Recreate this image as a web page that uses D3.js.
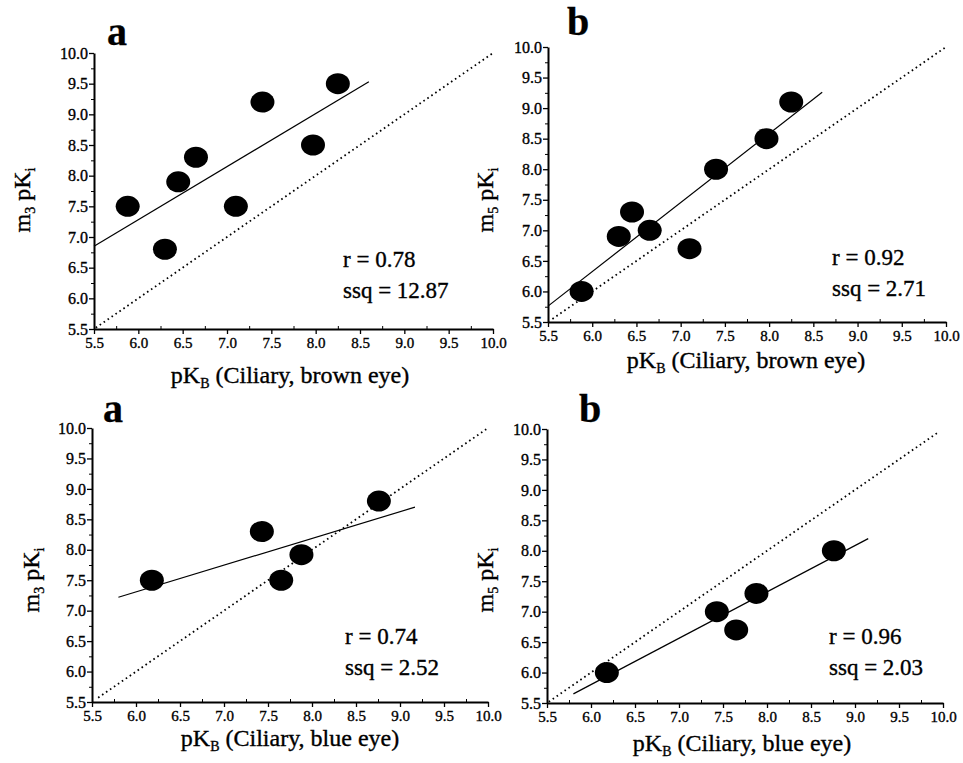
<!DOCTYPE html>
<html>
<head>
<meta charset="utf-8">
<script src="https://cdn.jsdelivr.net/npm/d3@7"></script>
<style>
  body { margin: 0; background: #fff; }
  svg { display: block; }
  text { font-family: "Liberation Serif", "Times New Roman", serif; fill: #000; stroke: #000; stroke-width: 0.35px; }
</style>
</head>
<body>
<svg width="963" height="763"></svg>
<script>
// tick values shared by every panel
var tickValues = [5.5, 6.0, 6.5, 7.0, 7.5, 8.0, 8.5, 9.0, 9.5, 10.0];
var minorValues = [5.75, 6.25, 6.75, 7.25, 7.75, 8.25, 8.75, 9.25, 9.75];

// brown eye (top row)
var brownX  = [5.88, 6.30, 6.45, 6.65, 7.10, 7.40, 7.97, 8.25];
var brownM3 = [7.50, 6.80, 7.90, 8.30, 7.50, 9.20, 8.50, 9.50];
var brownM5 = [6.00, 6.90, 7.30, 7.00, 6.70, 8.00, 8.50, 9.10];

// blue eye (bottom row)
var blueX  = [6.18, 7.43, 7.65, 7.88, 8.76];
var blueM3 = [7.50, 8.30, 7.50, 7.92, 8.80];
var blueM5 = [6.00, 7.00, 6.70, 7.30, 8.00];

// fitted lines [x0, y0, x1, y1]
var fitBrownM3 = [5.50, 6.85, 8.60, 9.53];
var fitBrownM5 = [5.50, 5.76, 8.60, 9.26];
var fitBlueM3  = [5.80, 7.22, 9.17, 8.70];
var fitBlueM5  = [5.80, 5.65, 9.15, 8.20];

// identity lines [start, end]
var idBrownM3 = [5.52, 10.0];
var idBrownM5 = [5.55, 10.0];
var idBlueM3  = [5.57, 10.0];
var idBlueM5  = [5.52, 9.95];

var stats = [["r = 0.78", "ssq = 12.87"], ["r = 0.92", "ssq = 2.71"],
             ["r = 0.74", "ssq = 2.52"], ["r = 0.96", "ssq = 2.03"]];
var letters = ["a", "b", "a", "b"];
var eyes = ["brown", "brown", "blue", "blue"];
var subs = ["3", "5", "3", "5"];

var panels = [
  {xs: brownX, ys: brownM3, fit: fitBrownM3, id: idBrownM3,
   xr: [94, 493], yr: [329, 53], letter: [107, 45], ylab: [30, 200], xlab: [290, 383], stat: [343, 267]},
  {xs: brownX, ys: brownM5, fit: fitBrownM5, id: idBrownM5,
   xr: [548, 946], yr: [322, 47], letter: [567, 35], ylab: [493, 200], xlab: [746, 368], stat: [832, 265]},
  {xs: blueX, ys: blueM3, fit: fitBlueM3, id: idBlueM3,
   xr: [92, 488], yr: [702, 428], letter: [103, 422], ylab: [39, 580], xlab: [290, 746], stat: [345, 644]},
  {xs: blueX, ys: blueM5, fit: fitBlueM5, id: idBlueM5,
   xr: [547, 943], yr: [703, 429], letter: [579, 422], ylab: [493, 580], xlab: [742, 751], stat: [829, 644]}
];

var svg = d3.select("svg");
var fmt = d3.format(".1f");

panels.forEach(function(p, i) {
  var x = d3.scaleLinear().domain([5.5, 10]).range(p.xr);
  var y = d3.scaleLinear().domain([5.5, 10]).range(p.yr);
  var g = svg.append("g");

  // minor ticks
  g.append("g")
      .attr("transform", "translate(0," + p.yr[0] + ")")
      .call(d3.axisBottom(x).tickValues(minorValues).tickSize(-3).tickFormat(""))
      .call(function(a) { a.select(".domain").remove(); });
  g.append("g")
      .attr("transform", "translate(" + p.xr[0] + ",0)")
      .call(d3.axisLeft(y).tickValues(minorValues).tickSize(3).tickFormat(""))
      .call(function(a) { a.select(".domain").remove(); });

  var xAxis = g.append("g")
      .attr("transform", "translate(0," + p.yr[0] + ")")
      .call(d3.axisBottom(x).tickValues(tickValues).tickSize(5).tickSizeOuter(0).tickFormat(fmt));
  var yAxis = g.append("g")
      .attr("transform", "translate(" + p.xr[0] + ",0)")
      .call(d3.axisLeft(y).tickValues(tickValues).tickSize(5).tickSizeOuter(0).tickFormat(fmt));

  [xAxis, yAxis].forEach(function(a) {
    a.select(".domain").attr("stroke-width", 2);
    a.selectAll(".tick line").attr("stroke-width", 1.3);
    a.selectAll("text").style("font-family", "'Liberation Serif', serif");
  });
  xAxis.selectAll("text").style("font-size", "15px").attr("dy", "0.9em").attr("y", 5);
  yAxis.selectAll("text").style("font-size", "16px").attr("x", -6);
  g.selectAll(".tick line").attr("stroke", "#000");
  g.selectAll(".domain").attr("stroke", "#000");

  // identity line
  g.append("line")
      .attr("x1", x(p.id[0])).attr("y1", y(p.id[0]))
      .attr("x2", x(p.id[1])).attr("y2", y(p.id[1]))
      .attr("stroke", "#000")
      .attr("stroke-width", 1.8)
      .attr("stroke-dasharray", "1.6,3.2");

  // fitted line
  g.append("line")
      .attr("x1", x(p.fit[0])).attr("y1", y(p.fit[1]))
      .attr("x2", x(p.fit[2])).attr("y2", y(p.fit[3]))
      .attr("stroke", "#000")
      .attr("stroke-width", 1.2);

  g.selectAll("ellipse")
      .data(d3.zip(p.xs, p.ys))
    .enter().append("ellipse")
      .attr("cx", function(d) { return x(d[0]); })
      .attr("cy", function(d) { return y(d[1]); })
      .attr("rx", 12)
      .attr("ry", 10.5)
      .attr("fill", "#000");

  g.append("text")
      .attr("x", p.letter[0]).attr("y", p.letter[1])
      .style("font-size", "40px").style("font-weight", "bold")
      .text(letters[i]);

  var s = g.append("text")
      .attr("x", p.stat[0]).attr("y", p.stat[1])
      .style("font-size", "23px");
  s.append("tspan").text(stats[i][0]);
  s.append("tspan").attr("x", p.stat[0]).attr("dy", 31).text(stats[i][1]);

  var yl = g.append("text")
      .attr("transform", "translate(" + p.ylab[0] + "," + p.ylab[1] + ") rotate(-90)")
      .attr("text-anchor", "middle")
      .style("font-size", "24px");
  yl.append("tspan").text("m");
  yl.append("tspan").attr("dy", 5).style("font-size", "14px").text(subs[i]);
  yl.append("tspan").attr("dy", -5).text(" pK");
  yl.append("tspan").attr("dy", 5).style("font-size", "14px").text("i");

  var xl = g.append("text")
      .attr("x", p.xlab[0]).attr("y", p.xlab[1])
      .attr("text-anchor", "middle")
      .style("font-size", "24px");
  xl.append("tspan").text("pK");
  xl.append("tspan").attr("dy", 5).style("font-size", "14px").text("B");
  xl.append("tspan").attr("dy", -5).text(" (Ciliary, " + eyes[i] + " eye)");
});
</script>
</body>
</html>
